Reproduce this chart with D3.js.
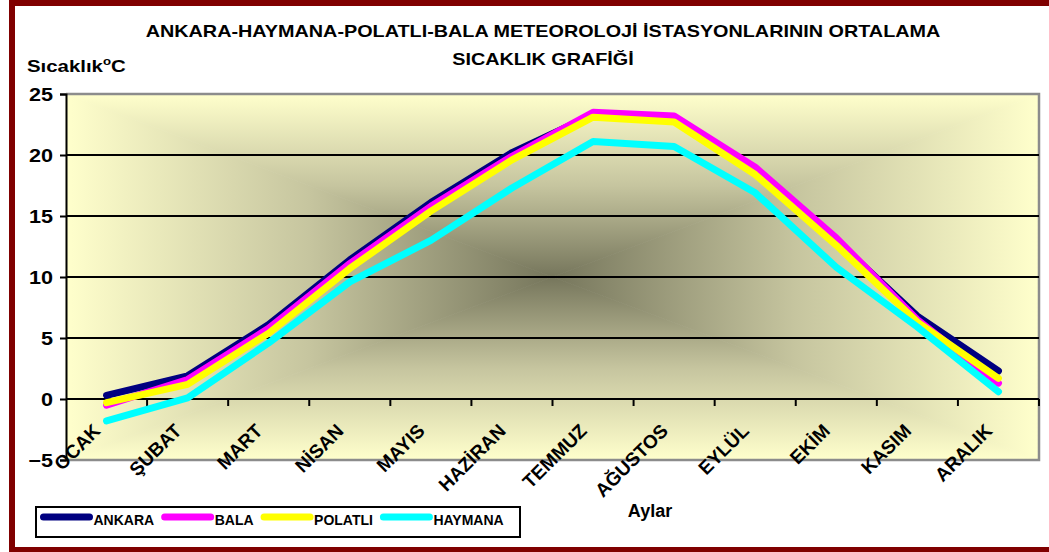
<!DOCTYPE html>
<html>
<head>
<meta charset="utf-8">
<script src="https://cdn.jsdelivr.net/npm/d3@7"></script>
<style>
  html, body { margin: 0; padding: 0; background: #fff; }
  svg { display: block; }
  text { font-family: "Liberation Sans", Arial, sans-serif; font-weight: bold; fill: #000; }
</style>
</head>
<body>
<div id="chart"></div>
<script>
// data
const months = ["OCAK", "ŞUBAT", "MART", "NİSAN", "MAYIS", "HAZİRAN", "TEMMUZ", "AĞUSTOS", "EYLÜL", "EKİM", "KASIM", "ARALIK"];
const ankara  = [0.3, 1.9, 6.1, 11.4, 16.1, 20.2, 23.3, 23.0, 18.8, 13.0, 6.8, 2.3];
const bala    = [-0.5, 1.6, 5.8, 11.1, 15.8, 19.9, 23.5, 23.2, 19.0, 13.2, 6.5, 1.3];
const polatli = [-0.3, 1.2, 5.4, 10.7, 15.4, 19.6, 23.1, 22.7, 18.4, 12.6, 6.3, 1.7];
const haymana = [-1.8, 0.1, 4.6, 9.6, 13.0, 17.3, 21.1, 20.7, 16.9, 10.8, 5.9, 0.6];
const seriesNames = ["ANKARA", "BALA", "POLATLI", "HAYMANA"];
const seriesColors = ["#000080", "#FF00FF", "#FFFF00", "#00FFFF"];
const yTicks = [-5, 0, 5, 10, 15, 20, 25];

const W = 1049, H = 552;
const plot = { left: 66, right: 1039, top: 94, bottom: 460 };
const SX = 1.2; // the original picture is stretched sideways

const svg = d3.select("#chart").append("svg")
  .attr("width", W).attr("height", H)
  .attr("viewBox", `0 0 ${W} ${H}`);

// outer dark red frame (right side falls off the picture)
svg.append("rect")
  .attr("x", 12).attr("y", 3).attr("width", 1200).attr("height", 547)
  .attr("fill", "#fff").attr("stroke", "#800000").attr("stroke-width", 6);

const x = d3.scaleBand().domain(months).range([plot.left, plot.right]).padding(0);
const y = d3.scaleLinear().domain([-5, 25]).range([plot.bottom, plot.top]);
const cx = (plot.left + plot.right) / 2;
const cy = (plot.top + plot.bottom) / 2;

// "from centre" gradient: four triangles, each fading from its edge to the centre
const defs = svg.append("defs");
const gradStops = [[0, "#FFFFCC"], [0.5, "#c6c59f"], [1, "#76765c"]];
const sides = [
  { id: "gT", pts: [[plot.left, plot.top], [plot.right, plot.top], [cx, cy]], g: [cx, plot.top, cx, cy] },
  { id: "gB", pts: [[plot.left, plot.bottom], [plot.right, plot.bottom], [cx, cy]], g: [cx, plot.bottom, cx, cy] },
  { id: "gL", pts: [[plot.left, plot.top], [plot.left, plot.bottom], [cx, cy]], g: [plot.left, cy, cx, cy] },
  { id: "gR", pts: [[plot.right, plot.top], [plot.right, plot.bottom], [cx, cy]], g: [plot.right, cy, cx, cy] }
];
sides.forEach(s => {
  const lg = defs.append("linearGradient").attr("id", s.id)
    .attr("gradientUnits", "userSpaceOnUse")
    .attr("x1", s.g[0]).attr("y1", s.g[1]).attr("x2", s.g[2]).attr("y2", s.g[3]);
  gradStops.forEach(st => lg.append("stop").attr("offset", st[0]).attr("stop-color", st[1]));
  svg.append("path")
    .attr("d", "M" + s.pts.map(p => p.join(",")).join("L") + "Z")
    .attr("fill", `url(#${s.id})`).attr("stroke", `url(#${s.id})`).attr("stroke-width", 0.8);
});

// plot border (grey) on top/right/bottom
svg.append("path")
  .attr("d", `M${plot.left},${plot.top}H${plot.right}V${plot.bottom}H${plot.left}`)
  .attr("fill", "none").attr("stroke", "#8c8c8c").attr("stroke-width", 2.5);

// horizontal gridlines
svg.append("g").selectAll("line")
  .data(yTicks.filter(d => d > 0 && d < 25))
  .join("line")
  .attr("x1", plot.left).attr("x2", plot.right)
  .attr("y1", d => y(d)).attr("y2", d => y(d))
  .attr("stroke", "#000").attr("stroke-width", 2);

// y axis
const yAxis = svg.append("g")
  .attr("transform", `translate(${plot.left},0)`)
  .call(d3.axisLeft(y).tickValues(yTicks).tickSize(6).tickFormat(d3.format("d")));
yAxis.select(".domain").attr("stroke", "#000").attr("stroke-width", 2);
yAxis.selectAll(".tick line").attr("stroke", "#000").attr("stroke-width", 2);
yAxis.selectAll("text")
  .style("font-size", "18px").attr("font-family", null).attr("fill", "#000")
  .attr("x", 0).attr("dy", "0.36em")
  .attr("transform", `translate(-13,0) scale(${SX},1)`);

// x axis crossing at zero, tick marks at category boundaries
const xAxisG = svg.append("g");
xAxisG.append("line")
  .attr("x1", plot.left).attr("x2", plot.right)
  .attr("y1", y(0)).attr("y2", y(0))
  .attr("stroke", "#000").attr("stroke-width", 2);
xAxisG.selectAll("line.tk")
  .data(months.slice(1).concat(["_end"]))
  .join("line").attr("class", "tk")
  .attr("x1", d => d === "_end" ? plot.right : x(d))
  .attr("x2", d => d === "_end" ? plot.right : x(d))
  .attr("y1", y(0)).attr("y2", y(0) + 7)
  .attr("stroke", "#000").attr("stroke-width", 2);

// month labels, rotated, hanging from the bottom of the plot
svg.append("g").selectAll("text")
  .data(months)
  .join("text")
  .attr("text-anchor", "end")
  .style("font-size", "19px")
  .attr("transform", d => `translate(${x(d) + x.bandwidth() / 2 - 5},432) rotate(-45)`)
  .text(d => d);

// series lines
const seriesData = [ankara, bala, polatli, haymana];
const line = d3.line()
  .x((d, i) => x(months[i]) + x.bandwidth() / 2)
  .y(d => y(d));
svg.append("g").selectAll("path")
  .data(seriesData)
  .join("path")
  .attr("d", line)
  .attr("fill", "none")
  .attr("stroke", (d, i) => seriesColors[i])
  .attr("stroke-width", 7)
  .attr("stroke-linejoin", "round")
  .attr("stroke-linecap", "round");

// stretched text helper
function sText(px, py, size, anchor) {
  return svg.append("text")
    .attr("transform", `translate(${px},${py}) scale(${SX},1)`)
    .attr("text-anchor", anchor || "start")
    .style("font-size", size + "px");
}

// title
sText(543, 37, 16.5, "middle").text("ANKARA-HAYMANA-POLATLI-BALA METEOROLOJİ İSTASYONLARININ ORTALAMA");
sText(543, 65, 16.5, "middle").text("SICAKLIK GRAFİĞİ");

// axis titles
const yt = sText(27, 72, 17);
yt.append("tspan").text("Sıcaklık");
yt.append("tspan").attr("dy", -7).style("font-size", "11px").text("o");
yt.append("tspan").attr("dy", 7).text("C");

svg.append("text").attr("x", 650).attr("y", 517).attr("text-anchor", "middle")
  .style("font-size", "18px").text("Aylar");

// legend
const legend = svg.append("g");
legend.append("rect")
  .attr("x", 36).attr("y", 507).attr("width", 484).attr("height", 30)
  .attr("fill", "#fff").attr("stroke", "#000").attr("stroke-width", 2);
let lx = 43.5;
seriesNames.forEach((name, i) => {
  legend.append("line")
    .attr("x1", lx).attr("x2", lx + 46).attr("y1", 517).attr("y2", 517)
    .attr("stroke", seriesColors[i]).attr("stroke-width", 7).attr("stroke-linecap", "round");
  const t = legend.append("text")
    .attr("x", lx + 50).attr("y", 525).style("font-size", "14px").text(name);
  lx += 50 + t.node().getComputedTextLength() + 10.5;
});
</script>
</body>
</html>
